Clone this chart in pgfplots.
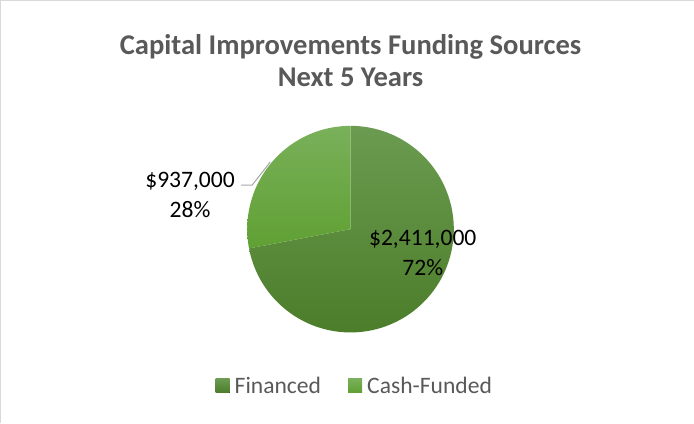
\documentclass[border=0pt]{standalone}
\usepackage{pgfplots}
\pgfplotsset{compat=1.18}
\usepackage{pgfplotstable}
\usepackage{fontspec}
\setmainfont{Carlito}

\definecolor{titlegray}{HTML}{595959}
\definecolor{fintop}{HTML}{6B9B50}
\definecolor{finbot}{HTML}{4C7D2A}
\definecolor{cashtop}{HTML}{79B05A}
\definecolor{cashbot}{HTML}{60A033}
\definecolor{bordergray}{HTML}{D9D9D9}
\definecolor{leadergray}{HTML}{A6A6A6}

\pgfplotstableread{
source value
Financed 2411000
Cash-Funded 937000
}\funding

\pgfplotstablegetelem{0}{value}\of\funding \let\vfin\pgfplotsretval
\pgfplotstablegetelem{1}{value}\of\funding \let\vcash\pgfplotsretval

\pgfkeys{/pgf/fpu=true,/pgf/fpu/output format=fixed}
\pgfmathsetmacro\afin{360*\vfin/(\vfin+\vcash)}
\pgfkeys{/pgf/fpu=false}
\pgfmathsetmacro\sfin{90-\afin}
\pgfmathsetmacro\ecash{90+360-\afin}

\begin{document}
\begin{tikzpicture}
\begin{axis}[
  scale only axis,
  width=694pt, height=423pt,
  xmin=0, xmax=694, ymin=0, ymax=423,
  hide axis, clip=false,
  legend style={at={(0.512,0.087)}, anchor=center, draw=none, fill=none,
    legend columns=2, font=\fontsize{23.5}{26}\selectfont, text=titlegray,
    nodes={inner xsep=0pt},
    /tikz/every even column/.append style={column sep=27pt}},
  legend image code/.code={\fill[#1] (0pt,-7pt) rectangle (14pt,7pt); \path (19pt,0pt);},
]
% border (top and left only)
\draw[bordergray, line width=1pt] (axis cs:3,0) -- (axis cs:3,421) -- (axis cs:694,421);

% pie slices
\addplot[draw=none, top color=fintop, bottom color=finbot, domain=\sfin:90, samples=150, variable=\t]
  ({352+103*cos(\t)}, {193+103*sin(\t)}) -- (axis cs:352,193) -- cycle;
\addlegendentry{Financed}
\addplot[draw=none, top color=cashtop, bottom color=cashbot, domain=90:\ecash, samples=80, variable=\t]
  ({352+103*cos(\t)}, {193+103*sin(\t)}) -- (axis cs:352,193) -- cycle;
\addlegendentry{Cash-Funded}

% title
\node[font=\bfseries\fontsize{28.5}{32.5}\selectfont, text=titlegray, align=center]
  at (axis cs:352,361) {Capital Improvements Funding Sources\\Next 5 Years};

% data labels
\node[font=\fontsize{23.5}{30}\selectfont, align=center] at (axis cs:192,227) {\$937,000\\28\%};
\node[font=\fontsize{23.5}{30}\selectfont, align=center] at (axis cs:424,169) {\$2,411,000\\72\%};
\draw[leadergray, line width=1pt] (axis cs:243,237) -- (axis cs:254,237) -- (axis cs:272,260);
\end{axis}
\end{tikzpicture}
\end{document}
